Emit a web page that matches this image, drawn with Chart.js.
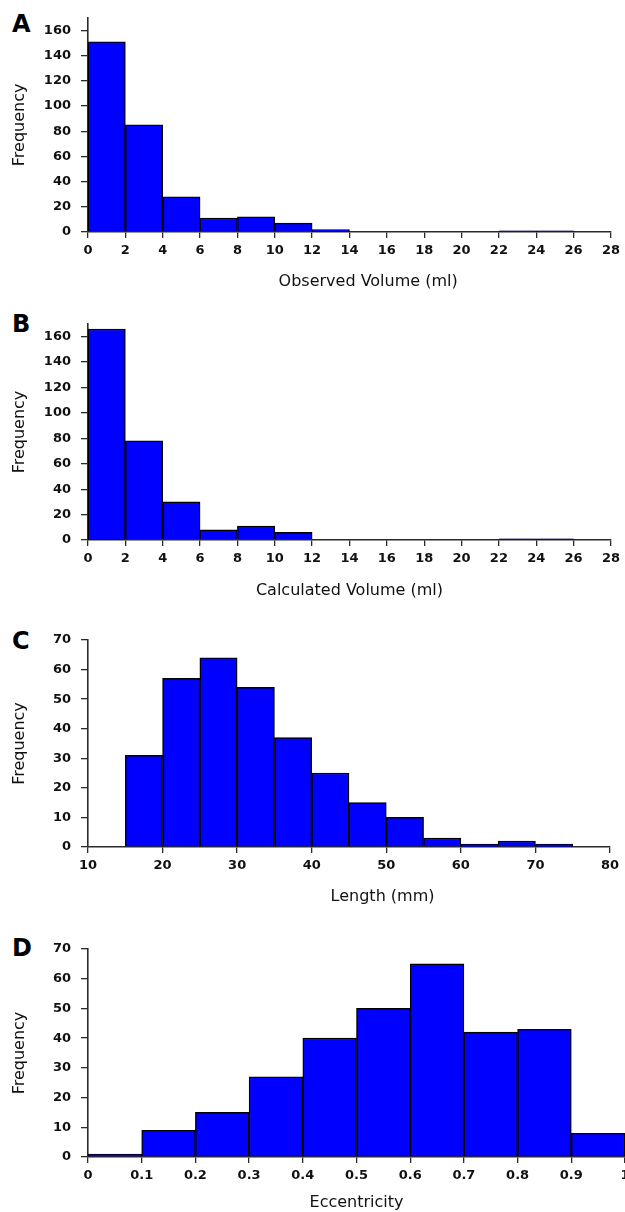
<!DOCTYPE html>
<html>
<head>
<meta charset="utf-8">
<script src="https://cdn.jsdelivr.net/npm/chart.js@4/dist/chart.umd.min.js"></script>
<style>
  body { margin: 0; background: #fff; width: 625px; height: 1212px; overflow: hidden; position: relative; }
  canvas { position: absolute; left: 0; }
  .tag { position: absolute; left: 12px; font: bold 24px "DejaVu Sans", sans-serif; line-height: 24px; color: #000; }
</style>
</head>
<body>
<div class="tag" style="top:12px">A</div>
<div class="tag" style="top:312px">B</div>
<div class="tag" style="top:629px">C</div>
<div class="tag" style="top:936px">D</div>
<canvas id="chartA"></canvas>
<canvas id="chartB"></canvas>
<canvas id="chartC"></canvas>
<canvas id="chartD"></canvas>
<script>
// histogram bins (left edges) and counts
var volumeBinStart = [0, 2, 4, 6, 8, 10, 12, 14, 16, 18, 20, 22, 24, 26];
var observedCounts = [151, 85, 28, 11, 12, 7, 2, 0, 0, 0, 0, 1, 1, 0];
var calculatedCounts = [166, 78, 30, 8, 11, 6, 0, 0, 0, 0, 0, 1, 1, 0];

var lengthBinStart = [10, 15, 20, 25, 30, 35, 40, 45, 50, 55, 60, 65, 70, 75];
var lengthCounts = [0, 31, 57, 64, 54, 37, 25, 15, 10, 3, 1, 2, 1, 0];

var eccBinStart = [0, 0.1, 0.2, 0.3, 0.4, 0.5, 0.6, 0.7, 0.8, 0.9];
var eccCounts = [1, 9, 15, 27, 40, 50, 65, 42, 43, 8];

// tick labels
var volumeTicks = [0, 2, 4, 6, 8, 10, 12, 14, 16, 18, 20, 22, 24, 26, 28];
var lengthTicks = [10, 20, 30, 40, 50, 60, 70, 80];
var eccTicks = [0, 0.1, 0.2, 0.3, 0.4, 0.5, 0.6, 0.7, 0.8, 0.9, 1];
var freqTicksVolume = [0, 20, 40, 60, 80, 100, 120, 140, 160];
var freqTicksShape = [0, 10, 20, 30, 40, 50, 60, 70];

var FONT = '"DejaVu Sans", sans-serif';
var AXIS = '#2a2a2a';

// x-axis caption, centred on a data value of the x scale
var axisCaption = {
  id: 'axisCaption',
  afterDraw: function (chart, args, opts) {
    var ctx = chart.ctx, x = chart.scales.x;
    ctx.save();
    ctx.font = '16px ' + FONT;
    ctx.fillStyle = '#111';
    ctx.textAlign = 'center';
    ctx.textBaseline = 'middle';
    ctx.fillText(opts.text, x.getPixelForValue(opts.at), chart.chartArea.bottom + opts.gap);
    ctx.restore();
  }
};

function histogram(p) {
  var canvas = document.getElementById(p.id);
  canvas.width = p.width;
  canvas.height = p.height;
  canvas.style.top = p.top + 'px';

  var w = p.bins[1] - p.bins[0];
  var points = p.bins.map(function (b, i) { return { x: b + w / 2, y: p.counts[i] }; });
  var xAxisH = p.top + p.height - p.plotBottom;

  return new Chart(canvas, {
    type: 'bar',
    data: {
      datasets: [{
        data: points,
        backgroundColor: '#0000ff',
        borderColor: '#000',
        borderWidth: 1.4,
        barPercentage: 1,
        categoryPercentage: 1
      }]
    },
    plugins: [axisCaption],
    options: {
      responsive: false,
      animation: false,
      devicePixelRatio: 1,
      layout: { padding: { top: p.plotTop - p.top, right: p.width - p.plotRight, bottom: 0, left: 0 } },
      plugins: {
        legend: { display: false },
        tooltip: { enabled: false },
        axisCaption: { text: p.caption, at: p.captionAt, gap: p.captionGap }
      },
      scales: {
        x: {
          type: 'linear',
          min: p.xMin,
          max: p.xMax,
          offset: false,
          afterBuildTicks: function (s) { s.ticks = p.xTicks.map(function (v) { return { value: v }; }); },
          afterFit: function (s) { s.height = xAxisH; },
          grid: { offset: false, drawOnChartArea: false, drawTicks: true, tickLength: 6, color: AXIS, lineWidth: 1.3 },
          border: { color: AXIS, width: 1.6 },
          ticks: {
            autoSkip: false, maxRotation: 0, padding: 5, color: '#111',
            font: { family: FONT, size: 13, weight: 'bold' },
            callback: function (v) { return String(v); }
          }
        },
        y: {
          min: 0,
          max: p.yMax,
          afterBuildTicks: function (s) { s.ticks = p.yTicks.map(function (v) { return { value: v }; }); },
          afterFit: function (s) { s.width = 88; },
          grid: { drawOnChartArea: false, drawTicks: true, tickLength: 7, color: AXIS, lineWidth: 1.3 },
          border: { color: AXIS, width: 1.6 },
          ticks: {
            padding: 10, color: '#111',
            font: { family: FONT, size: 13, weight: 'bold' },
            callback: function (v) { return String(v); }
          },
          title: {
            display: true, text: 'Frequency', color: '#111',
            font: { family: FONT, size: 16 },
            padding: { top: 10, bottom: 0 }
          }
        }
      }
    }
  });
}

histogram({
  id: 'chartA', top: 0, height: 292, width: 625,
  plotTop: 15, plotBottom: 232, plotRight: 612,
  bins: volumeBinStart, counts: observedCounts,
  xMin: 0, xMax: 28, xTicks: volumeTicks,
  yMax: 170, yTicks: freqTicksVolume,
  caption: 'Observed Volume (ml)', captionAt: 15, captionGap: 50
});

histogram({
  id: 'chartB', top: 296, height: 304, width: 625,
  plotTop: 324, plotBottom: 540, plotRight: 612,
  bins: volumeBinStart, counts: calculatedCounts,
  xMin: 0, xMax: 28, xTicks: volumeTicks,
  yMax: 170, yTicks: freqTicksVolume,
  caption: 'Calculated Volume (ml)', captionAt: 14, captionGap: 51
});

histogram({
  id: 'chartC', top: 600, height: 307, width: 625,
  plotTop: 640, plotBottom: 847, plotRight: 610,
  bins: lengthBinStart, counts: lengthCounts,
  xMin: 10, xMax: 80, xTicks: lengthTicks,
  yMax: 70, yTicks: freqTicksShape,
  caption: 'Length (mm)', captionAt: 49.5, captionGap: 50
});

histogram({
  id: 'chartD', top: 907, height: 305, width: 645,
  plotTop: 949, plotBottom: 1157, plotRight: 625,
  bins: eccBinStart, counts: eccCounts,
  xMin: 0, xMax: 1, xTicks: eccTicks,
  yMax: 70, yTicks: freqTicksShape,
  caption: 'Eccentricity', captionAt: 0.5, captionGap: 46
});
</script>
</body>
</html>
